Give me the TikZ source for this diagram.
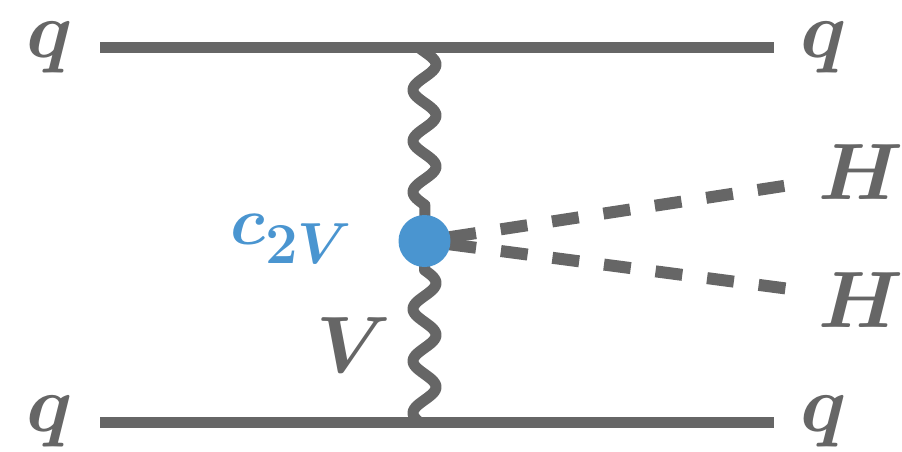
\RequirePackage{fix-cm}
\documentclass[tikz,border=0pt]{standalone}
\usepackage{bm}
\definecolor{lg}{HTML}{666666}
\definecolor{lb}{HTML}{4A95D0}
\begin{document}
\begin{tikzpicture}[x=1pt,y=-1pt,
  fermion/.style={draw=lg,line width=11pt},
  boson/.style={draw=lg,line width=11pt,line join=round},
  scalar/.style={draw=lg,line width=12pt,dash pattern=on 27pt off 25pt,dash phase=27pt},
  lbl/.style={text=lg,inner sep=0pt,font=\fontsize{80}{96}\selectfont},
  blob/.style={circle,fill=lb,minimum size=52pt,inner sep=0pt}]
\useasboundingbox (0,0) rectangle (902,451);
% coordinates
\coordinate (a1) at (100,47);
\coordinate (a2) at (774,47);
\coordinate (b1) at (100,422.5);
\coordinate (b2) at (774,422.5);
\coordinate (v) at (424.5,241);
\coordinate (h1) at (790,185);
\coordinate (h2) at (790,289);
% fermion lines
\draw[fermion] (a1) -- (a2);
\draw[fermion] (b1) -- (b2);
% bosons
\draw[boson] plot[domain=47:205,samples=120,smooth] ({424.5+11.5*sin(7.0588*(\x-51.75))},\x) -- (v);
\draw[boson] (v) -- (424.5,270) -- plot[domain=270:423,samples=120,smooth] ({424.5+11.5*sin(6.9231*(\x-270))},\x);
% scalars
\draw[scalar] (v) -- (h1);
\draw[scalar] (v) -- (h2);
% blob
\node[blob] (bl) at (v) {};
% labels
\node[lbl] (q1) at (50,47.5) {$\bm{q}$};
\node[lbl] (q2) at (824,47.5) {$\bm{q}$};
\node[lbl] (q3) at (50,421) {$\bm{q}$};
\node[lbl] (q4) at (824,421) {$\bm{q}$};
\node[lbl] (H1) at (861,172.5) {$\bm{H}$};
\node[lbl] (H2) at (861,300) {$\bm{H}$};
\node[lbl] (V) at (354,345) {$\bm{V}$};
\node[text=lb,inner sep=0pt,anchor=base west] (c) at (230,244) {{\fontsize{68}{72}\selectfont$\bm{c}$}{\fontsize{58}{64}\selectfont\raisebox{-19pt}{$\bm{2V}$}}};
\end{tikzpicture}
\end{document}
